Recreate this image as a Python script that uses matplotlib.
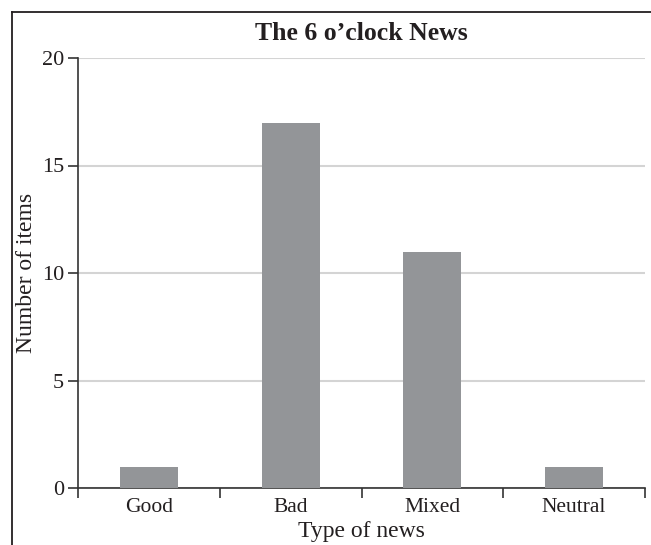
import matplotlib
matplotlib.use("Agg")
import matplotlib.pyplot as plt
from matplotlib.lines import Line2D

categories = ["Good", "Bad", "Mixed", "Neutral"]
values = [1, 17, 11, 1]
yticks = [0, 5, 10, 15, 20]

plt.rcParams['font.family'] = ['Liberation Serif', 'DejaVu Serif']
txt = '#231f20'

W, H = 651, 545
fig = plt.figure(figsize=(W/100, H/100), dpi=100)
ax = fig.add_axes([78/W, 1-488/H, (645-78)/W, (488-58)/H])

x = list(range(len(categories)))
ax.bar(x, values, width=0.41, color='#939598', zorder=3)
ax.set_xlim(-0.5, len(categories)-0.5)
ax.set_ylim(0, 20)
ax.set_yticks(yticks)
ax.set_yticklabels([str(v) for v in yticks], fontsize=16, color=txt)
ax.yaxis.grid(True, color='#d4d4d4', linewidth=1.5, zorder=0)
ax.set_axisbelow(True)

ax.set_xticks(x)
ax.set_xticklabels(categories, fontsize=15.5, color=txt)
ax.tick_params(axis='x', which='major', length=0, pad=7)
ax.set_xticks([i - 0.5 for i in range(len(categories)+1)], minor=True)
ax.tick_params(axis='x', which='minor', length=7, width=1.2, color='#333333', direction='out')
ax.tick_params(axis='y', length=7, width=1.2, color='#333333', direction='out', pad=3)

for s in ['top', 'right']:
    ax.spines[s].set_visible(False)
for s in ['left', 'bottom']:
    ax.spines[s].set_color('#333333')
    ax.spines[s].set_linewidth(1.2)

fig.text((78+645)/2/W, 1-532/H, "Type of news", fontsize=17, color=txt, ha='center', va='center')
fig.text(27/W, 1-273/H, "Number of items", fontsize=17, color=txt, ha='center', va='center', rotation=90)
fig.text((78+645)/2/W, 1-33/H, "The 6 o\u2019clock News", fontsize=18.5, fontweight='bold',
         color=txt, ha='center', va='center')

# outer frame (left and top)
fig.add_artist(Line2D([12/W, 12/W], [0, 1-12/H], transform=fig.transFigure, color='#231f20', linewidth=1.3))
fig.add_artist(Line2D([12/W, 1], [1-12/H, 1-12/H], transform=fig.transFigure, color='#231f20', linewidth=1.3))

fig.savefig("out.png", dpi=100)
